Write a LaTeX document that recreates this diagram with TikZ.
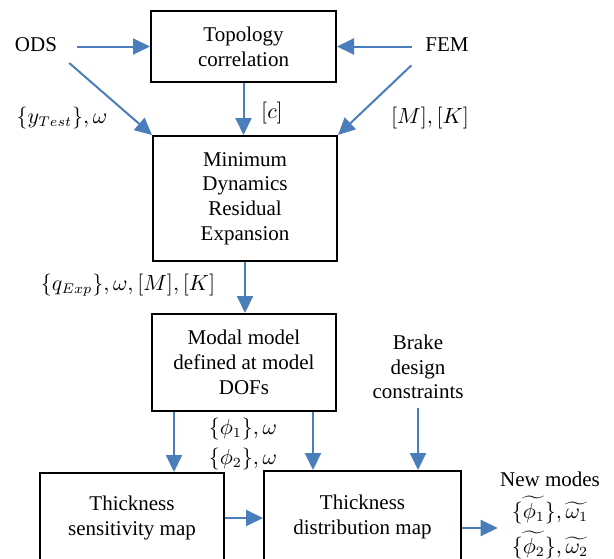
\documentclass[tikz,border=0pt]{standalone}
\usepackage{fontspec}
\setmainfont{LiberationSerif}[Extension=.ttf,UprightFont=*-Regular,BoldFont=*-Bold,ItalicFont=*-Italic]
\usepackage{amsmath}
\usepackage{tikz}
\usetikzlibrary{arrows.meta,calc,positioning}
\definecolor{FlowBlue}{HTML}{4A7EBB}

\begin{document}
\begin{tikzpicture}[x=0.5pt,y=-0.5pt,
        font=\fontsize{10.5}{12.35}\selectfont,
        box/.style={draw,line width=1pt,align=center,inner sep=0pt},
        flow/.style={FlowBlue,line width=1pt,-{Triangle[length=8.5pt,width=8pt]}},
        lbl/.style={inner sep=1pt,align=center}]
        \useasboundingbox (0,0) rectangle (614,558);
        \clip (0,0) rectangle (614,558);

        % blocks
        \node[box,minimum width=92.5pt,minimum height=35.5pt] (topo) at (243.5,46.5) {Topology\\correlation};
        \node[box,minimum width=92pt,minimum height=62.5pt] (mdre) at (245,198.5) {Minimum\\Dynamics\\Residual\\Expansion};
        \node[box,minimum width=92pt,minimum height=48.5pt] (modal) at (244,362.5) {Modal model\\defined at model\\DOFs};
        \node[box,minimum width=92pt,minimum height=45pt] (sens) at (132,518) {Thickness\\sensitivity map};
        \node[box,minimum width=98.5pt,minimum height=46pt] (dist) at (362.5,517) {Thickness\\distribution map};

        % inputs and outputs
        \node[lbl] (ods) at (36,45) {ODS};
        \node[lbl] (fem) at (447,45) {FEM};
        \node[lbl] (brake) at (418,367) {Brake\\design\\constraints};
        \node[lbl,font=\fontsize{10.5}{15.25}\selectfont] (newmodes) at (550,515)
            {New modes\\[1pt]$\{\widetilde{\phi_1}\},\widetilde{\omega_1}$\\[2pt]$\{\widetilde{\phi_2}\},\widetilde{\omega_2}$};

        % connectors
        \draw[flow,shorten <=9pt] (ods.east |- topo.west) -- (topo.west);
        \draw[flow,shorten <=6.5pt] (ods.south east) -- (mdre.north west);
        \draw[flow,shorten <=5.75pt] (fem.west |- topo.east) -- (topo.east);
        \draw[flow,shorten <=8pt] (fem.south west) -- (mdre.north east);
        \draw[flow] (topo.south) -- (topo.south |- mdre.north);
        \draw[flow] (mdre.south) -- (mdre.south |- modal.north);
        \draw[flow] ([xshift=11.5pt]modal.south west) -- ([xshift=11.5pt]modal.south west |- sens.north);
        \draw[flow] ([xshift=-12pt]modal.south east) -- ([xshift=-12pt]modal.south east |- dist.north);
        \draw[flow,shorten <=3pt] (brake.south) -- (brake.south |- dist.north);
        \draw[flow] (sens.east) -- (sens.east -| dist.west);
        \draw[flow] ([yshift=-5.5pt]dist.east) -- ([yshift=-5.5pt]dist.east -| newmodes.west);

        % labels
        \node[lbl] (ytest) at (62,118) {$\{y_{Test}\},\omega$};
        \node[lbl] (mk) at (430,118) {$[M],[K]$};
        \node[lbl] (cmat) at (272,113) {$[c]$};
        \node[lbl] (qexp) at (128,285) {$\{q_{Exp}\},\omega,[M],[K]$};
        \node[lbl] (phione) at (243,429) {$\{\phi_1\},\omega$};
        \node[lbl] (phitwo) at (243,459) {$\{\phi_2\},\omega$};
    \end{tikzpicture}
\end{document}
